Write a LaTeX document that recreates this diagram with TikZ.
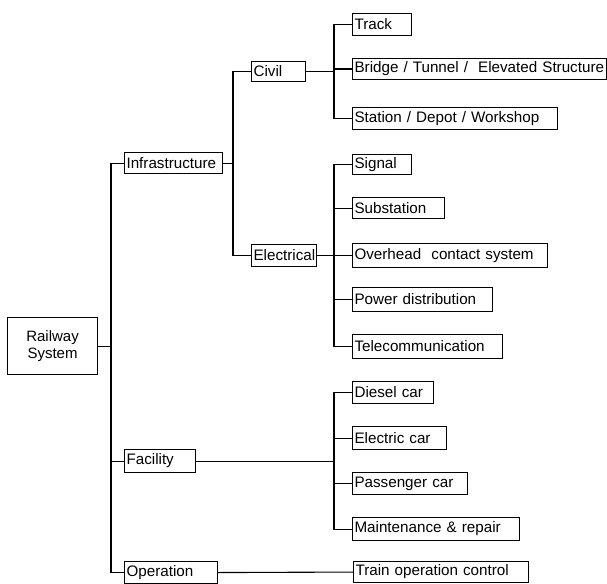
\documentclass[tikz,border=0pt]{standalone}
\usepackage{fontspec}
\setmainfont{Liberation Sans}
\begin{document}
\begin{tikzpicture}[x=1pt,y=-1pt,
  line width=1.1pt,
  box/.style={draw, line width=1.1pt, anchor=north west, inner xsep=2pt, inner ysep=0pt,
    align=left, font=\fontsize{15.2}{17}\selectfont},
  rootbox/.style={draw, line width=1.1pt, anchor=north west, inner sep=0pt, align=center,
    font=\fontsize{15}{17}\selectfont}]
\useasboundingbox (0,0) rectangle (607,583);

% root
\node[rootbox, minimum width=90pt, minimum height=57pt] (rs) at (7,317) {Railway\\System};

% first level
\node[box, text width=94pt, minimum height=21pt] (inf) at (124,152) {Infrastructure};
\node[box, text width=67pt, minimum height=23pt] (fac) at (124,449) {Facility};
\node[box, text width=89pt, minimum height=22pt] (ope) at (124,561) {Operation};

% second level
\node[box, text width=50pt, minimum height=20pt] (civ) at (251,61) {Civil};
\node[box, text width=61pt, minimum height=22pt] (ele) at (251,244) {Electrical};

% civil items
\node[box, text width=55pt, minimum height=22pt] (trk) at (352,13) {Track};
\node[box, text width=250pt, minimum height=21pt] (brg) at (352,58) {Bridge / Tunnel /~ Elevated Structure};
\node[box, text width=201pt, minimum height=22pt] (sta) at (352,107) {Station / Depot / Workshop};

% electrical items
\node[box, text width=55pt, minimum height=20pt] (sig) at (352,154) {Signal};
\node[box, text width=88pt, minimum height=21pt] (sub) at (352,197) {Substation};
\node[box, text width=191pt, minimum height=24pt] (ovh) at (352,243) {Overhead~ contact system};
\node[box, text width=136pt, minimum height=24pt] (pwr) at (352,287) {Power distribution};
\node[box, text width=146pt, minimum height=24pt] (tel) at (352,334) {Telecommunication};

% facility items
\node[box, text width=77pt, minimum height=22pt] (dsl) at (352,381) {Diesel car};
\node[box, text width=90pt, minimum height=23pt] (elc) at (352,426) {Electric car};
\node[box, text width=111pt, minimum height=22pt] (psg) at (352,472) {Passenger car};
\node[box, text width=163pt, minimum height=23pt] (mnt) at (352,517) {Maintenance \& repair};

% operation item
\node[box, text width=171pt, minimum height=21pt] (toc) at (353,561) {Train operation control};

% bus lines
\coordinate (bus0) at (111,0);
\coordinate (bus1) at (233,0);
\coordinate (bus2) at (334,0);

% root to first level
\draw (rs.east) -- (rs.east -| bus0);
\draw (inf.west) -- (inf.west -| bus0) -- (ope.west -| bus0) -- (ope.west);
\draw (fac.west) -- (fac.west -| bus0);

% infrastructure to civil / electrical
\draw (inf.east) -- (inf.east -| bus1);
\draw (civ.west) -- (civ.west -| bus1) -- (ele.west -| bus1) -- (ele.west);

% civil to its items
\draw (civ.east) -- (civ.east -| bus2);
\draw (trk.west) -- (trk.west -| bus2) -- (sta.west -| bus2) -- (sta.west);
\draw (brg.west) -- (brg.west -| bus2);

% electrical to its items
\draw (ele.east) -- (ele.east -| bus2);
\draw (sig.west) -- (sig.west -| bus2) -- (tel.west -| bus2) -- (tel.west);
\draw (sub.west) -- (sub.west -| bus2);
\draw (ovh.west) -- (ovh.west -| bus2);
\draw (pwr.west) -- (pwr.west -| bus2);

% facility to its items
\draw (fac.east) -- (fac.east -| bus2);
\draw (dsl.west) -- (dsl.west -| bus2) -- (mnt.west -| bus2) -- (mnt.west);
\draw (elc.west) -- (elc.west -| bus2);
\draw (psg.west) -- (psg.west -| bus2);

% operation to its item
\draw (ope.east) -- (toc.west);
\end{tikzpicture}
\end{document}
